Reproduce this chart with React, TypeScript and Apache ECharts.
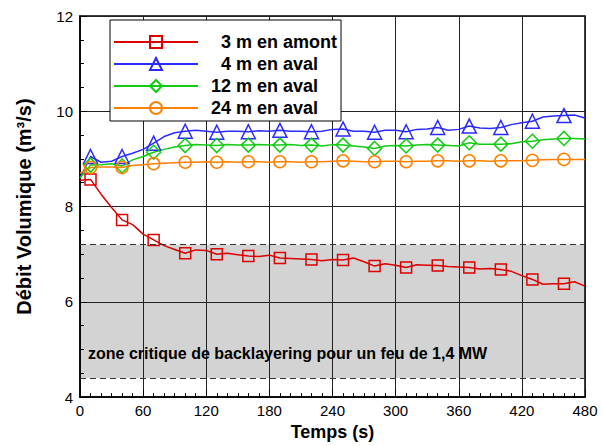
import React, { useEffect, useRef } from 'react';
import * as echarts from 'echarts';

const times = [0, 10, 20, 30, 40, 50, 60, 70, 80, 90, 100, 110, 120, 130, 140, 150, 160, 170, 180, 190, 200, 210, 220, 230, 240, 250, 260, 270, 280, 290, 300, 310, 320, 330, 340, 350, 360, 370, 380, 390, 400, 410, 420, 430, 440, 450, 460, 470, 480];

const amont3 = [8.55, 8.57, 8.26, 7.98, 7.72, 7.62, 7.42, 7.30, 7.18, 7.10, 7.02, 7.09, 7.08, 7.00, 7.02, 6.99, 6.96, 6.95, 6.98, 6.92, 6.91, 6.90, 6.89, 6.86, 6.89, 6.88, 6.92, 6.84, 6.75, 6.80, 6.77, 6.72, 6.78, 6.77, 6.76, 6.74, 6.73, 6.72, 6.69, 6.70, 6.68, 6.64, 6.55, 6.47, 6.37, 6.38, 6.38, 6.42, 6.33];
const aval4 = [8.6, 9.05, 8.93, 8.95, 9.05, 9.12, 9.2, 9.33, 9.47, 9.55, 9.58, 9.6, 9.58, 9.56, 9.58, 9.58, 9.57, 9.59, 9.58, 9.6, 9.58, 9.58, 9.57, 9.58, 9.62, 9.63, 9.58, 9.58, 9.56, 9.6, 9.6, 9.57, 9.62, 9.63, 9.66, 9.6, 9.62, 9.69, 9.65, 9.64, 9.66, 9.72, 9.76, 9.79, 9.88, 9.9, 9.91, 9.92, 9.86];
const aval12 = [8.6, 8.87, 8.88, 8.9, 8.85, 8.98, 9.05, 9.14, 9.2, 9.25, 9.28, 9.3, 9.29, 9.28, 9.3, 9.29, 9.29, 9.3, 9.29, 9.29, 9.3, 9.28, 9.29, 9.27, 9.3, 9.29, 9.27, 9.25, 9.22, 9.27, 9.28, 9.27, 9.29, 9.3, 9.29, 9.28, 9.27, 9.34, 9.31, 9.31, 9.31, 9.32, 9.36, 9.37, 9.4, 9.42, 9.43, 9.43, 9.42];
const aval24 = [8.7, 8.82, 8.83, 8.83, 8.82, 8.86, 8.88, 8.9, 8.91, 8.92, 8.93, 8.93, 8.94, 8.93, 8.94, 8.93, 8.94, 8.94, 8.93, 8.94, 8.94, 8.93, 8.94, 8.94, 8.95, 8.96, 8.95, 8.94, 8.94, 8.95, 8.95, 8.94, 8.95, 8.95, 8.96, 8.96, 8.95, 8.96, 8.96, 8.95, 8.96, 8.96, 8.96, 8.97, 8.98, 8.99, 8.99, 8.99, 8.99];

const markerTimes = [10, 40, 70, 100, 130, 160, 190, 220, 250, 280, 310, 340, 370, 400, 430, 460];

const seriesNames = ['3 m en amont', '4 m en aval', '12 m en aval', '24 m en aval'];
const bandRange = [4.4, 7.2];
const bandLabel = 'zone critique de backlayering pour un feu de 1,4 MW';
const xTitle = 'Temps (s)';
const yTitle = 'Débit Volumique (m³/s)';

const FONT = 'Liberation Sans, Arial, Helvetica, sans-serif';

function makeSeries(name: string, values: number[], color: string, symbol: string, size: number) {
  return {
    name,
    type: 'line',
    data: times.map((t, i) =>
      markerTimes.includes(t) ? { value: [t, values[i]] } : { value: [t, values[i]], symbol: 'none' }
    ),
    symbol,
    symbolSize: size,
    showAllSymbol: true,
    lineStyle: { color, width: 1.5 },
    itemStyle: { color: 'transparent', borderColor: color, borderWidth: 1.5 },
    emphasis: { disabled: true },
    z: 3,
  };
}

export default function App() {
  const ref = useRef<HTMLDivElement>(null);
  useEffect(() => {
    document.body.style.margin = '0';
    if (!ref.current) return;
    const chart = echarts.init(ref.current, undefined, { renderer: 'svg' });
    chart.setOption({
      animation: false,
      backgroundColor: '#fff',
      grid: { left: 80, right: 17, top: 16, bottom: 47, show: true, borderColor: '#000', borderWidth: 1.5, backgroundColor: 'transparent' },
      xAxis: {
        type: 'value', min: 0, max: 480, interval: 60,
        name: xTitle, nameLocation: 'middle', nameGap: 25,
        nameTextStyle: { fontFamily: FONT, fontSize: 18, fontWeight: 'bold', color: '#000' },
        axisLine: { lineStyle: { color: '#000', width: 1.5 } },
        axisTick: { inside: true, length: 7, lineStyle: { color: '#000' } },
        minorTick: { show: true, splitNumber: 6, length: 4, lineStyle: { color: '#000' } },
        splitLine: { show: true, lineStyle: { color: '#222', width: 1 } },
        axisLabel: { fontFamily: FONT, fontSize: 15, color: '#000', margin: 6 },
      },
      yAxis: {
        type: 'value', min: 4, max: 12, interval: 2,
        name: yTitle, nameLocation: 'middle', nameGap: 46, nameRotate: 90,
        nameTextStyle: { fontFamily: FONT, fontSize: 20, fontWeight: 'bold', color: '#000' },
        axisLine: { show: true, lineStyle: { color: '#000', width: 1.5 } },
        axisTick: { show: true, inside: true, length: 7, lineStyle: { color: '#000' } },
        minorTick: { show: true, splitNumber: 4, length: 4, lineStyle: { color: '#000' } },
        splitLine: { show: true, lineStyle: { color: '#222', width: 1 } },
        axisLabel: { fontFamily: FONT, fontSize: 15, color: '#000', margin: 7 },
      },
      legend: {
        orient: 'vertical', left: 110, top: 20,
        itemWidth: 84, itemHeight: 15, itemGap: 4,
        padding: [13, 4, 4, 3],
        backgroundColor: '#fff', borderColor: '#000', borderWidth: 1, borderRadius: 0,
        selectedMode: false,
        textStyle: { fontFamily: FONT, fontSize: 18, fontWeight: 'bold', color: '#000', lineHeight: 15, padding: [0, 0, 0, 8] },
        data: [
          { name: seriesNames[0], textStyle: { padding: [0, 0, 0, 18] } },
          { name: seriesNames[1], textStyle: { padding: [0, 0, 0, 18] } },
          { name: seriesNames[2] },
          { name: seriesNames[3] },
        ],
      },
      graphic: [
        {
          type: 'text', x: 88, y: 353, z: 1,
          style: { text: bandLabel, fontFamily: FONT, fontSize: 16, fontWeight: 'bold', fill: '#000', verticalAlign: 'middle' },
        },
      ],
      series: [
        {
          name: 'band', type: 'line', data: [], z: -1,
          markArea: {
            z: -1, silent: true,
            itemStyle: { color: '#d3d3d3' },
            data: [[{ yAxis: bandRange[0] }, { yAxis: bandRange[1] }]],
          },
          markLine: {
            silent: true, symbol: ['none', 'none'], label: { show: false },
            lineStyle: { color: '#333', type: [6, 4], width: 1 },
            data: bandRange.map((v) => ({ yAxis: v })),
          },
        },
        makeSeries(seriesNames[0], amont3, '#dd0000', 'rect', 11),
        makeSeries(seriesNames[1], aval4, '#2b2bff', 'triangle', 14),
        makeSeries(seriesNames[2], aval12, '#11cc11', 'diamond', 14),
        makeSeries(seriesNames[3], aval24, '#ff8000', 'circle', 12),
      ],
    });
    return () => chart.dispose();
  }, []);
  return <div ref={ref} style={{ width: 602, height: 446 }} />;
}
